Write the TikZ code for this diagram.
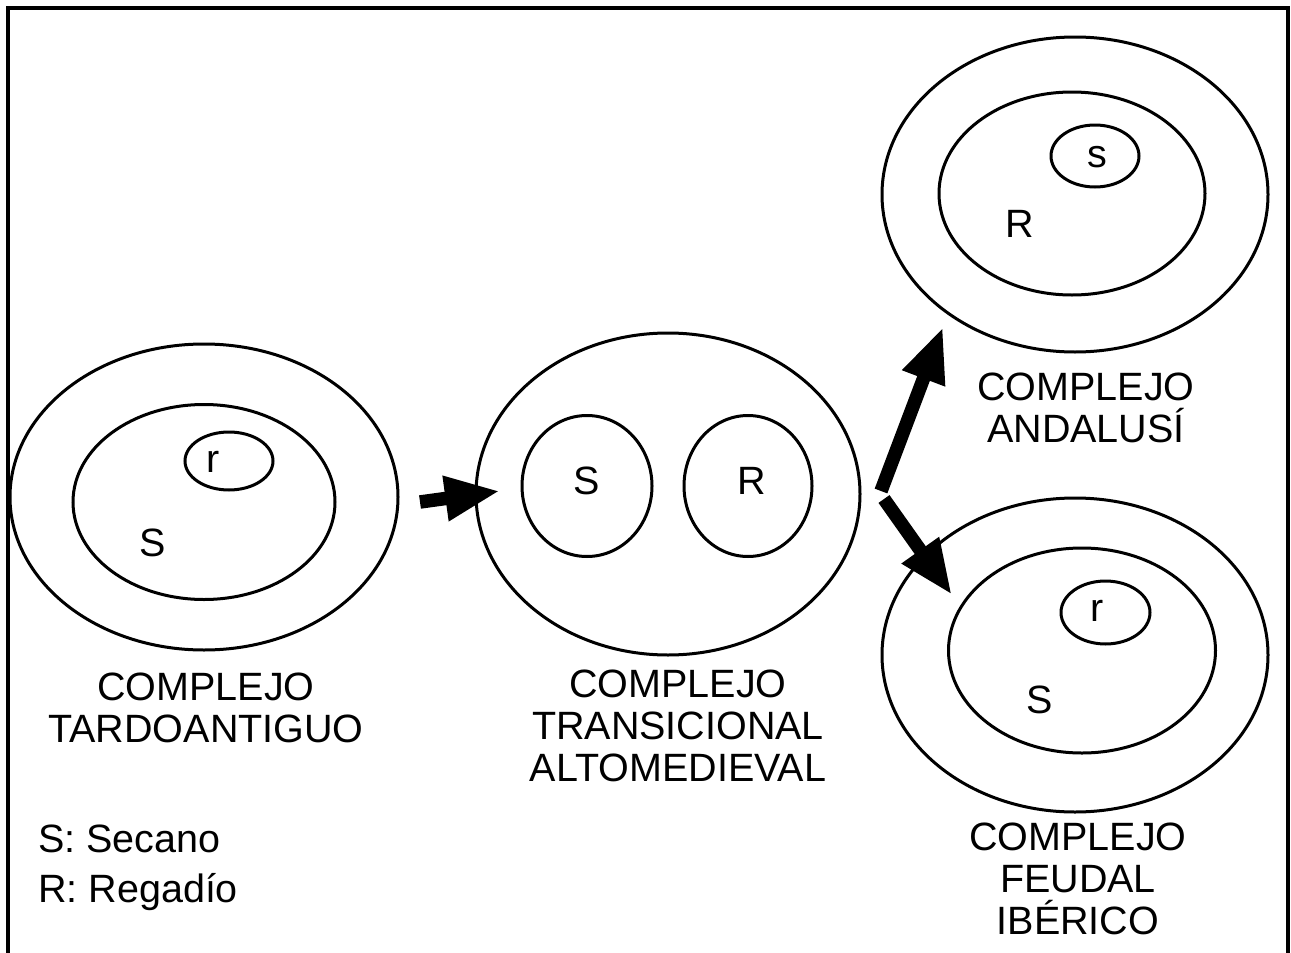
\documentclass[tikz,border=0pt]{standalone}
\usepackage{fontspec}
\setmainfont{Liberation Sans}
\usetikzlibrary{shapes.geometric,arrows.meta}
\begin{document}
\begin{tikzpicture}[x=1pt,y=1pt,
  ell/.style={draw,line width=3pt,ellipse,inner sep=0pt},
  txt/.style={font=\fontsize{39.5}{42}\selectfont,align=center,inner sep=0pt},
  bigarrow/.style={line width=13.5pt,-{Triangle[length=55pt,width=42pt]}}]
\useasboundingbox (0,0) rectangle (1291,-953);
\draw[line width=4pt] (8,-960) -- (8,-8) -- (1288,-8) -- (1288,-960);
% Tardoantiguo
\node[ell,minimum width=388,minimum height=306] (t1) at (204,-497) {};
\node[ell,minimum width=262,minimum height=195] (t1i) at (204,-502) {};
\node[ell,minimum width=88,minimum height=58] (t1r) at (229,-461) {};
\node[txt] (t1rt) at (213,-462) {r};
\node[txt] (t1st) at (153,-543) {S};
\node[txt] (t1l) at (206,-708) {COMPLEJO\\TARDOANTIGUO};
% Transicional
\node[ell,minimum width=384,minimum height=322] (t2) at (668,-494) {};
\node[ell,minimum width=130,minimum height=141] (t2s) at (587,-486) {};
\node[ell,minimum width=128,minimum height=141] (t2r) at (748,-486) {};
\node[txt] (t2st) at (587,-481) {S};
\node[txt] (t2rt) at (752,-481) {R};
\node[txt] (t2l) at (678,-726) {COMPLEJO\\TRANSICIONAL\\ALTOMEDIEVAL};
% Andalusi
\node[ell,minimum width=386,minimum height=315] (t3) at (1075,-194.5) {};
\node[ell,minimum width=266,minimum height=203] (t3i) at (1072,-193.5) {};
\node[ell,minimum width=88,minimum height=62] (t3s) at (1095,-156) {};
\node[txt] (t3st) at (1097,-157) {s};
\node[txt] (t3rt) at (1020,-224) {R};
\node[txt] (t3l) at (1086,-408) {COMPLEJO\\ANDALUSÍ};
% Feudal
\node[ell,minimum width=386,minimum height=314] (t4) at (1075,-655) {};
\node[ell,minimum width=267,minimum height=205] (t4i) at (1082,-650.5) {};
\node[ell,minimum width=89,minimum height=63] (t4r) at (1105.5,-612.5) {};
\node[txt] (t4rt) at (1097,-611) {r};
\node[txt] (t4st) at (1040,-700) {S};
\node[txt] (t4l) at (1078,-879) {COMPLEJO\\FEUDAL\\IBÉRICO};
% Legend
\node[txt,anchor=base west] (lg1) at (38,-852) {S: Secano};
\node[txt,anchor=base west] (lg2) at (38,-902) {R: Regadío};
% Arrows
\coordinate (a1s) at (420,-502);
\coordinate (a1e) at (500,-491);
\coordinate (j1) at (881,-491);
\coordinate (j2) at (884,-499);
\coordinate (a2e) at (943,-327);
\coordinate (a3e) at (952,-595);
\draw[bigarrow] (a1s) -- (a1e);
\draw[bigarrow] (j1) -- (a2e);
\draw[bigarrow] (j2) -- (a3e);
\end{tikzpicture}
\end{document}
